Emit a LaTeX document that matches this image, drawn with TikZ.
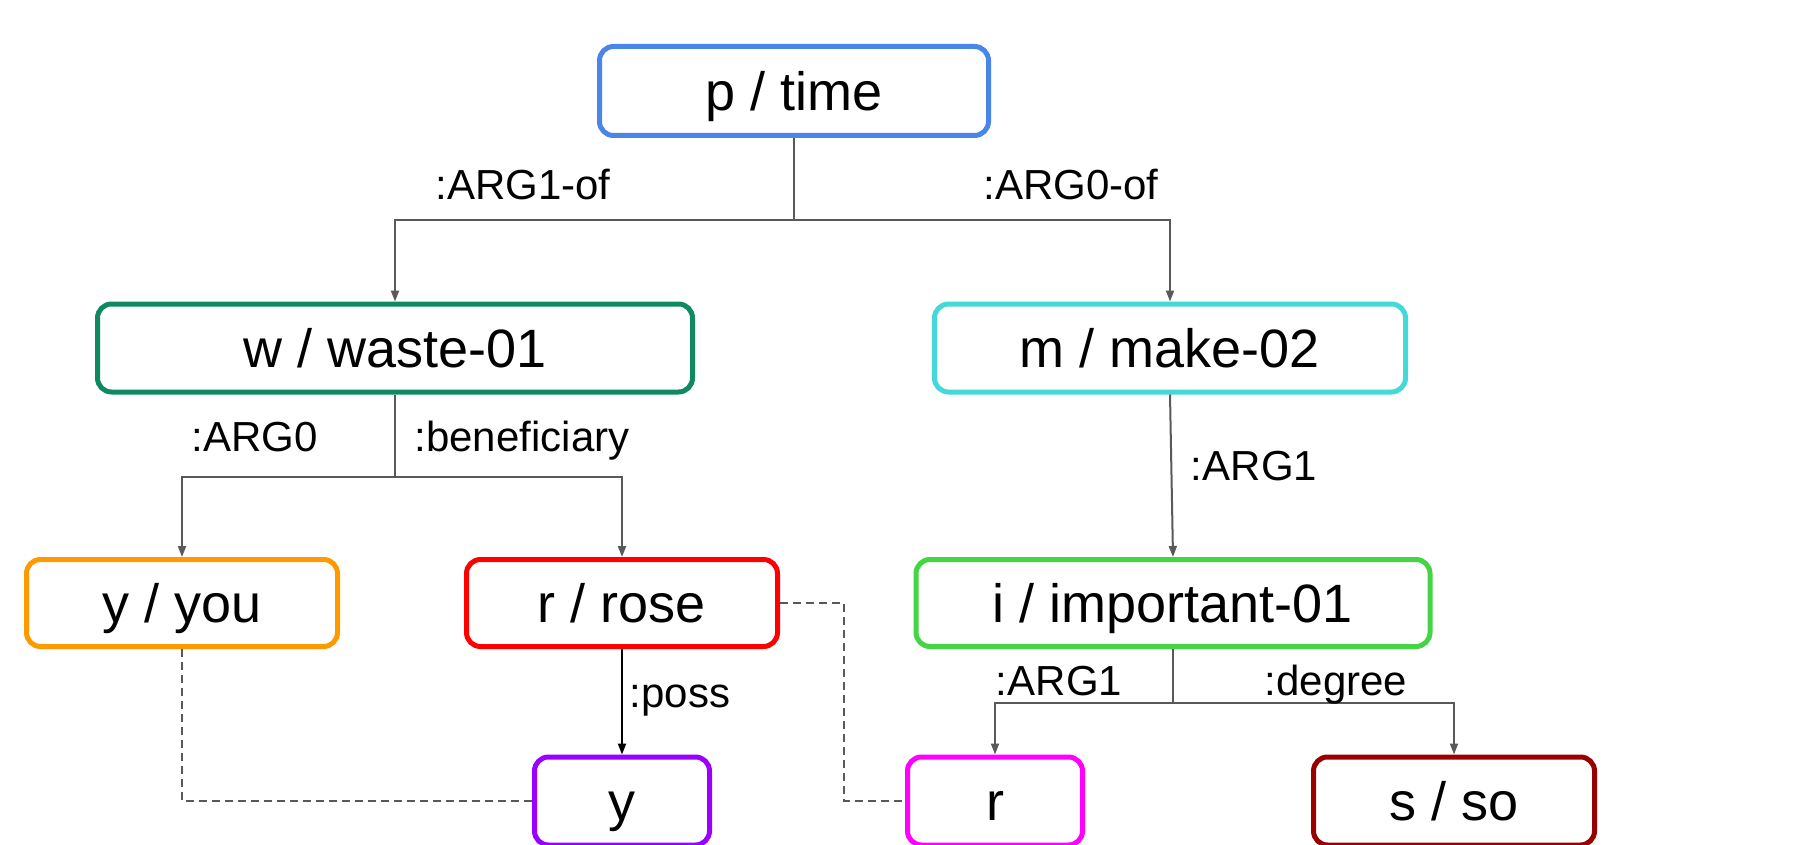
\documentclass[tikz,border=0pt]{standalone}
\usepackage{fontspec}
\setmainfont{Liberation Sans}
\usetikzlibrary{arrows.meta}
\definecolor{cblue}{HTML}{4A86E8}
\definecolor{cwaste}{HTML}{0F8A5F}
\definecolor{cmake}{HTML}{45D8D8}
\definecolor{cyou}{HTML}{FF9900}
\definecolor{crose}{HTML}{FF0000}
\definecolor{cimp}{HTML}{44D544}
\definecolor{cyy}{HTML}{9900FF}
\definecolor{crr}{HTML}{FF00FF}
\definecolor{cso}{HTML}{990000}
\definecolor{cgray}{HTML}{595959}
\begin{document}
\begin{tikzpicture}[x=1pt,y=-1pt,
  box/.style={draw, line width=5pt, rounded corners=14pt, minimum height=88pt,
    inner sep=0pt, font=\fontsize{54}{60}\selectfont, text height=39pt, text depth=0pt, fill=white},
  lbl/.style={font=\fontsize{42}{48}\selectfont, anchor=base, inner sep=0pt},
  conn/.style={draw=cgray, line width=2pt, -{Triangle[length=11pt,width=8pt]}},
  dashline/.style={draw=cgray, line width=2pt, dash pattern=on 8pt off 5pt}]
\useasboundingbox (0,0) rectangle (1814,845);
% nodes
\node[box, draw=cblue, minimum width=389pt, minimum height=89pt] (p) at (794,91) {p / time};
\node[box, draw=cwaste, minimum width=595pt] (w) at (395,348) {w / waste-01};
\node[box, draw=cmake, minimum width=471pt] (m) at (1170,348) {m / make-02};
\node[box, draw=cyou, minimum width=311pt, minimum height=87pt] (you) at (182,603) {y / you};
\node[box, draw=crose, minimum width=311pt, minimum height=87pt] (rose) at (622,603) {r / rose};
\node[box, draw=cimp, minimum width=514pt, minimum height=87pt] (i) at (1173,603) {i / important-01};
\node[box, draw=cyy, minimum width=175pt] (yy) at (622,801) {y};
\node[box, draw=crr, minimum width=175pt] (rr) at (995,801) {r};
\node[box, draw=cso, minimum width=281pt] (s) at (1454,801) {s / so};
% connectors
\draw[conn] (p.south) -- ++(0,82) -| (w.north);
\draw[conn] (p.south) -- ++(0,82) -| (m.north);
\draw[conn] (w.south) -- ++(0,82) -| (you.north);
\draw[conn] (w.south) -- ++(0,82) -| (rose.north);
\draw[conn] (m.south) -- (i.north);
\draw[conn] (i.south) -- ++(0,54) -| (rr.north);
\draw[conn] (i.south) -- ++(0,54) -| (s.north);
\draw[conn, draw=black] (rose.south) -- (yy.north);
\draw[dashline] (you.south) |- (yy.west);
\draw[dashline] (rose.east) -- ++(64,0) |- (rr.west);
% labels
\node[lbl] (l1) at (523,200) {:ARG1-of};
\node[lbl] (l2) at (1071,200) {:ARG0-of};
\node[lbl] (l3) at (255,451) {:ARG0};
\node[lbl] (l4) at (522,451) {:beneficiary};
\node[lbl] (l5) at (1254,480) {:ARG1};
\node[lbl] (l6) at (1059,695) {:ARG1};
\node[lbl] (l7) at (1336,695) {:degree};
\node[lbl] (l8) at (680,707) {:poss};
\end{tikzpicture}
\end{document}
